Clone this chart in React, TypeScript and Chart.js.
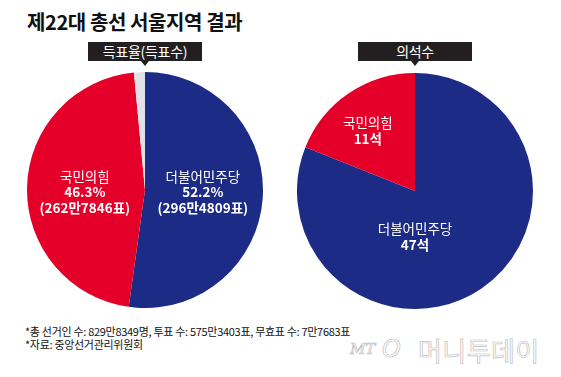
import React, { useEffect, useRef } from "react";
import { Chart, registerables } from "chart.js";

Chart.register(...registerables);

// ---- Data ----
const voteParties = ["더불어민주당", "국민의힘", "기타"];
const voteShares = [52.2, 46.3, 1.5];
const voteCounts = ["296만4809표", "262만7846표", ""];
const seatParties = ["더불어민주당", "국민의힘"];
const seatCounts = [47, 11];

const titleText = "제22대 총선 서울지역 결과";
const leftHeader = "득표율(득표수)";
const rightHeader = "의석수";
const footnotes = [
  "*총 선거인 수: 829만8349명, 투표 수: 575만3403표, 무효표 수: 7만7683표",
  "*자료: 중앙선거관리위원회",
];

// ---- Styles ----
const BLUE = "#1c2b86";
const RED = "#e5002a";
const GRAY = "#dfe2e8";
const FONT = "'Noto Sans CJK KR', 'Noto Sans', sans-serif";

type LabelSpec = { index: number; lines: { text: string; bold: boolean }[]; dx: number; dy: number; gap: number };

const pieLabelPlugin = {
  id: "pieLabels",
  afterDatasetsDraw(chart: any, _args: any, opts: any) {
    const items: LabelSpec[] = opts.items || [];
    const meta = chart.getDatasetMeta(0);
    const ctx = chart.ctx;
    ctx.save();
    ctx.fillStyle = "#ffffff";
    ctx.textAlign = "center";
    ctx.textBaseline = "middle";
    items.forEach((it) => {
      const arc = meta.data[it.index];
      if (!arc) return;
      const { x, y, outerRadius } = arc.getProps(["x", "y", "outerRadius"], true);
      const cx = x + it.dx * outerRadius;
      const cy = y + it.dy * outerRadius;
      const n = it.lines.length;
      it.lines.forEach((ln, i) => {
        ctx.font = `${ln.bold ? "bold " : ""}13.5px ${FONT}`;
        ctx.fillText(ln.text, cx, cy + (i - (n - 1) / 2) * it.gap);
      });
    });
    ctx.restore();
  },
};

function PieChart(props: { values: number[]; colors: string[]; labels: string[]; items: LabelSpec[]; style: React.CSSProperties }) {
  const ref = useRef<HTMLCanvasElement | null>(null);
  useEffect(() => {
    if (!ref.current) return;
    const chart = new Chart(ref.current, {
      type: "pie",
      data: {
        labels: props.labels,
        datasets: [
          {
            data: props.values,
            backgroundColor: props.colors,
            borderWidth: 0,
          },
        ],
      },
      options: {
        animation: false,
        responsive: false,
        maintainAspectRatio: false,
        layout: { padding: 0 },
        plugins: {
          legend: { display: false },
          tooltip: { enabled: false },
          pieLabels: { items: props.items },
        } as any,
      },
      plugins: [pieLabelPlugin],
    });
    return () => chart.destroy();
  }, []);
  return <canvas ref={ref} width={236} height={236} style={{ position: "absolute", ...props.style }} />;
}

function Header({ text, left, top }: { text: string; left: number; top: number }) {
  return (
    <div style={{ position: "absolute", left, top, width: 114, height: 19 }}>
      <div
        style={{
          width: "100%",
          height: "100%",
          background: "#231f20",
          color: "#fff",
          fontFamily: FONT,
          fontSize: 14,
          lineHeight: "19px",
          textAlign: "center",
          letterSpacing: -0.3,
        }}
      >
        {text}
      </div>
      <div
        style={{
          position: "absolute",
          left: 53,
          top: 19,
          width: 0,
          height: 0,
          borderLeft: "4px solid transparent",
          borderRight: "4px solid transparent",
          borderTop: "5px solid #231f20",
        }}
      />
    </div>
  );
}

export default function App() {
  const leftItems: LabelSpec[] = [
    {
      index: 0,
      lines: [
        { text: voteParties[0], bold: false },
        { text: `${voteShares[0]}%`, bold: true },
        { text: `(${voteCounts[0]})`, bold: true },
      ],
      dx: 0.49,
      dy: 0.02,
      gap: 15.5,
    },
    {
      index: 1,
      lines: [
        { text: voteParties[1], bold: false },
        { text: `${voteShares[1]}%`, bold: true },
        { text: `(${voteCounts[1]})`, bold: true },
      ],
      dx: -0.51,
      dy: 0.02,
      gap: 15.5,
    },
  ];
  const rightItems: LabelSpec[] = [
    {
      index: 0,
      lines: [
        { text: seatParties[0], bold: false },
        { text: `${seatCounts[0]}석`, bold: true },
      ],
      dx: 0.0,
      dy: 0.39,
      gap: 16.5,
    },
    {
      index: 1,
      lines: [
        { text: seatParties[1], bold: false },
        { text: `${seatCounts[1]}석`, bold: true },
      ],
      dx: -0.4,
      dy: -0.51,
      gap: 16.5,
    },
  ];

  return (
    <div
      style={{
        position: "absolute",
        left: 0,
        top: 0,
        width: 561,
        height: 377,
        background: "#fff",
        overflow: "hidden",
        fontFamily: FONT,
      }}
    >
      <div
        style={{
          position: "absolute",
          left: 27,
          top: 8,
          fontSize: 20,
          fontWeight: "bold",
          color: "#111",
          letterSpacing: -0.4,
          lineHeight: "28px",
          whiteSpace: "nowrap",
        }}
      >
        {titleText}
      </div>
      <Header text={leftHeader} left={88} top={42} />
      <Header text={rightHeader} left={358} top={42} />
      <PieChart
        values={voteShares}
        colors={[BLUE, RED, GRAY]}
        labels={voteParties}
        items={leftItems}
        style={{ left: 27, top: 72 }}
      />
      <PieChart
        values={seatCounts}
        colors={[BLUE, RED]}
        labels={seatParties}
        items={rightItems}
        style={{ left: 297, top: 73 }}
      />
      <div
        style={{
          position: "absolute",
          left: 25,
          top: 325,
          fontSize: 11,
          lineHeight: "12.5px",
          color: "#111",
          letterSpacing: -0.3,
          whiteSpace: "nowrap",
        }}
      >
        {footnotes.map((f, i) => (
          <div key={i}>{f}</div>
        ))}
      </div>
      <div
        style={{
          position: "absolute",
          left: 350,
          top: 334,
          height: 30,
          display: "flex",
          alignItems: "center",
          whiteSpace: "nowrap",
          color: "#fff",
          WebkitTextStroke: "0.7px #c0c0c0",
        }}
      >
        <span style={{ fontSize: 15, fontStyle: "italic", fontFamily: "'DejaVu Serif', serif", width: 32 }}>MT</span>
        <span style={{ fontSize: 24, fontStyle: "italic", fontFamily: "'DejaVu Sans', sans-serif", width: 36 }}>O</span>
        <span style={{ fontSize: 26, letterSpacing: 0.4 }}>머니투데이</span>
      </div>
    </div>
  );
}
